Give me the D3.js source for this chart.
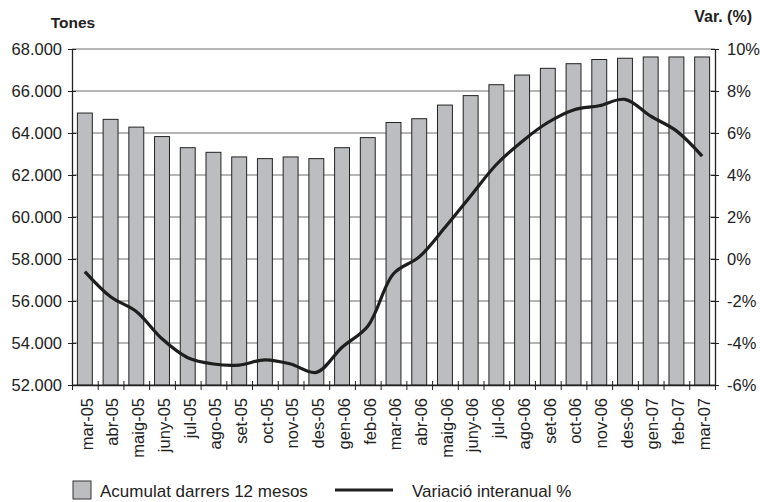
<!DOCTYPE html>
<html>
<head>
<meta charset="utf-8">
<script src="https://cdn.jsdelivr.net/npm/d3@7"></script>
<style>
  body { margin: 0; background: #fff; }
  text { font-family: "Liberation Sans", Arial, sans-serif; }
</style>
</head>
<body>
<svg id="chart" width="760" height="502"></svg>
<script>
const months = ['mar-05','abr-05','maig-05','juny-05','jul-05','ago-05','set-05','oct-05','nov-05','des-05',
  'gen-06','feb-06','mar-06','abr-06','maig-06','juny-06','jul-06','ago-06','set-06','oct-06','nov-06','des-06',
  'gen-07','feb-07','mar-07'];
const acumulat = [64950, 64650, 64280, 63830, 63300, 63080, 62860, 62780, 62860, 62780,
  63300, 63780, 64500, 64680, 65330, 65780, 66300, 66760, 67080, 67300, 67500, 67560,
  67620, 67620, 67620];
const variacio = [-0.6, -1.8, -2.5, -3.8, -4.7, -5.0, -5.05, -4.8, -5.0, -5.4,
  -4.2, -3.2, -0.7, 0.1, 1.5, 3.0, 4.5, 5.6, 6.5, 7.1, 7.3, 7.6,
  6.8, 6.1, 4.9];
const leftTicks = [52000, 54000, 56000, 58000, 60000, 62000, 64000, 66000, 68000];
const rightTicks = [-6, -4, -2, 0, 2, 4, 6, 8, 10];

const svg = d3.select('#chart');
const margin = {top: 49, right: 45, bottom: 117, left: 72};
const width = +svg.attr('width') - margin.left - margin.right;
const height = +svg.attr('height') - margin.top - margin.bottom;
const g = svg.append('g').attr('transform', `translate(${margin.left},${margin.top})`);

const x = d3.scaleBand().domain(months).range([0, width]).paddingInner(0.42).paddingOuter(0.21);
const xEdge = d3.scaleLinear().domain([0, months.length]).range([0, width]);
const yL = d3.scaleLinear().domain([52000, 68000]).range([height, 0]);
const yR = d3.scaleLinear().domain([-6, 10]).range([height, 0]);
const fmtL = d => d3.format(',.3f')(d / 1000).replace(',', '.');

// gridlines
g.append('g').selectAll('line').data(leftTicks).enter().append('line')
  .attr('x1', 0).attr('x2', width)
  .attr('y1', d => yL(d)).attr('y2', d => yL(d))
  .attr('stroke', '#6d6d6d').attr('stroke-width', 1);

// bars
g.append('g').selectAll('rect').data(months).enter().append('rect')
  .attr('x', d => x(d))
  .attr('y', (d, i) => yL(acumulat[i]))
  .attr('width', x.bandwidth())
  .attr('height', (d, i) => height - yL(acumulat[i]))
  .attr('fill', '#bcbdc0')
  .attr('stroke', '#222').attr('stroke-width', 1);

// line
const line = d3.line()
  .x((d, i) => x(months[i]) + x.bandwidth() / 2)
  .y(d => yR(d))
  .curve(d3.curveCatmullRom.alpha(0.5));
g.append('path').datum(variacio)
  .attr('d', line)
  .attr('fill', 'none').attr('stroke', '#1e1e1e').attr('stroke-width', 3.2)
  .attr('stroke-linejoin', 'round');

// axes
const axL = g.append('g')
  .call(d3.axisLeft(yL).tickValues(leftTicks).tickFormat(fmtL).tickSizeInner(4).tickSizeOuter(0));
const axR = g.append('g').attr('transform', `translate(${width},0)`)
  .call(d3.axisRight(yR).tickValues(rightTicks).tickFormat(d => d + '%').tickSizeInner(4).tickSizeOuter(0));
const axB = g.append('g').attr('transform', `translate(0,${height})`)
  .call(d3.axisBottom(xEdge).tickValues(d3.range(months.length + 1)).tickFormat('').tickSizeInner(5).tickSizeOuter(0));
const axLbl = g.append('g').attr('transform', `translate(0,${height})`)
  .call(d3.axisBottom(x).tickSize(0));

[axL, axR, axB, axLbl].forEach(a => {
  a.select('.domain').attr('stroke', '#222').attr('stroke-width', 1.3);
  a.selectAll('.tick line').attr('stroke', '#222');
});
axL.selectAll('.tick line').attr('x2', 4).attr('x1', -4);
axR.selectAll('.tick line').attr('x1', -4).attr('x2', 4);
axB.selectAll('.tick line').attr('y1', -4).attr('y2', 5);
axL.selectAll('text').attr('font-size', 16.5).attr('fill', '#222').attr('x', -10);
axR.selectAll('text').attr('font-size', 16.5).attr('fill', '#222').attr('x', 12);
axLbl.select('.domain').remove();
axLbl.selectAll('text')
  .attr('font-size', 16.5).attr('fill', '#222')
  .attr('transform', 'rotate(-90)')
  .attr('text-anchor', 'end')
  .attr('x', -13).attr('y', 2).attr('dy', '0.35em');

// axis titles
svg.append('text').attr('x', 73).attr('y', 28).attr('text-anchor', 'middle')
  .attr('font-size', 15.5).attr('font-weight', 'bold').attr('fill', '#222').text('Tones');
svg.append('text').attr('x', 752).attr('y', 22).attr('text-anchor', 'end')
  .attr('font-size', 16).attr('font-weight', 'bold').attr('fill', '#222').text('Var. (%)');

// legend
const lg = svg.append('g').attr('transform', 'translate(73,481)');
lg.append('rect').attr('x', 0).attr('y', 0).attr('width', 18).attr('height', 18)
  .attr('fill', '#bcbdc0').attr('stroke', '#333');
lg.append('text').attr('x', 27).attr('y', 16).attr('font-size', 17).attr('fill', '#222')
  .text('Acumulat darrers 12 mesos');
lg.append('line').attr('x1', 262).attr('x2', 320).attr('y1', 9).attr('y2', 9)
  .attr('stroke', '#1e1e1e').attr('stroke-width', 3.2);
lg.append('text').attr('x', 339).attr('y', 16).attr('font-size', 17).attr('fill', '#222')
  .text('Variació interanual %');
</script>
</body>
</html>
